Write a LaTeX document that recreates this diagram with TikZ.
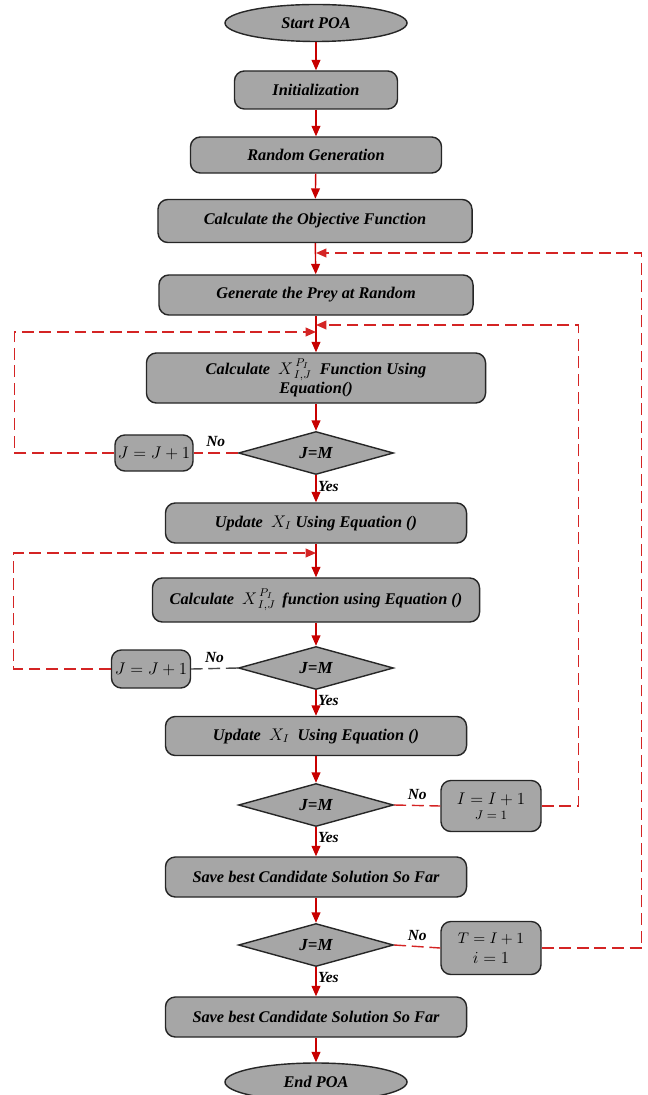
\documentclass[tikz,border=0pt]{standalone}
\usepackage{fontspec}
\setmainfont{Liberation Serif}
\usepackage{tikz}
\usetikzlibrary{arrows.meta,shapes.geometric,positioning,calc}
\definecolor{boxgray}{RGB}{166,166,166}
\definecolor{arrred}{RGB}{200,0,0}
\definecolor{loopred}{RGB}{212,36,36}
\tikzset{
  procbox/.style={rectangle, rounded corners=7pt, draw=black!85, line width=1pt, fill=boxgray,
                  align=center, font=\fontsize{11.6}{14}\selectfont\bfseries\itshape, inner sep=1pt},
  termbox/.style={ellipse, draw=black!85, line width=1pt, fill=boxgray, inner sep=1pt,
                  font=\fontsize{11.6}{14}\selectfont\bfseries\itshape},
  decbox/.style={diamond, aspect=3.6, draw=black!85, line width=1pt, fill=boxgray, inner sep=1pt,
                 minimum width=3.875cm, minimum height=1.075cm,
                 font=\fontsize{12}{14}\selectfont\bfseries\itshape},
  mathbox/.style={procbox, font=\fontsize{12.5}{14}\selectfont},
  arr/.style={-{Triangle[length=2.6mm,width=2.2mm]}, line width=1pt, draw=arrred},
  loopline/.style={line width=1pt, draw=loopred, dash pattern=on 8.5pt off 4pt},
  lbl/.style={font=\fontsize{11}{13}\selectfont\bfseries\itshape, inner sep=1pt},
}

\begin{document}
\begin{tikzpicture}[x=0.025cm, y=-0.025cm]
\useasboundingbox (0,0) rectangle (647,1095);

% main column
\node[termbox, minimum width=4.55cm, minimum height=0.925cm] (start) at (316,23) {Start POA};
\node[procbox, minimum width=4.075cm, minimum height=0.95cm] (init) at (316,90) {Initialization};
\node[procbox, minimum width=6.275cm, minimum height=0.9cm] (randgen) at (316,155) {Random Generation};
\node[procbox, minimum width=7.85cm, minimum height=1.075cm] (objfun) at (315,221) {Calculate the Objective Function};
\node[procbox, minimum width=7.85cm, minimum height=1cm] (prey) at (316,295) {Generate the Prey at Random};
\node[procbox, minimum width=8.475cm, minimum height=1.25cm] (calcA) at (316,378) {Calculate \ $X^{\,P_I}_{\,I,J}$ \ Function Using\\Equation()};
\node[decbox] (decA) at (316,453) {J=M};
\node[mathbox, minimum width=1.95cm, minimum height=0.9cm] (incA) at (154,453) {$J=J+1$};
\node[procbox, minimum width=7.525cm, minimum height=1cm] (updA) at (316,523) {Update \ $X_I$ Using Equation ()};
\node[procbox, minimum width=8.175cm, minimum height=1.1cm] (calcB) at (316,600) {Calculate \ $X^{\,P_I}_{\,I,J}$ \,function using Equation ()};
\node[decbox] (decB) at (316,668) {J=M};
\node[mathbox, minimum width=1.975cm, minimum height=0.95cm] (incB) at (151,669) {$J=J+1$};
\node[procbox, minimum width=7.525cm, minimum height=0.975cm] (updB) at (316,736) {Update \ $X_I$ \ Using Equation ()};
\node[decbox] (decC) at (316,805) {J=M};
\node[mathbox, minimum width=2.5cm, minimum height=1.275cm] (resetI) at (491,806) {$I=I+1$\\[-3pt]{\fontsize{9.5}{11}\selectfont$J=1$}};
\node[procbox, minimum width=7.525cm, minimum height=1cm] (saveA) at (316,877) {Save best Candidate Solution So Far};
\node[decbox] (decD) at (316,945) {J=M};
\node[mathbox, minimum width=2.5cm, minimum height=1.325cm] (resetT) at (491,948) {{\fontsize{11}{12}\selectfont$T=I+1$}\\$i=1$};
\node[procbox, minimum width=7.525cm, minimum height=1cm] (saveB) at (316,1017) {Save best Candidate Solution So Far};
\node[termbox, minimum width=4.55cm, minimum height=0.95cm] (endpoa) at (316,1082) {End POA};

% junctions on the main line
\coordinate (jtop) at (316,253);
\coordinate (jright) at (316,325);
\coordinate (jleft) at (316,332);
\coordinate (jlow) at (316,553);

% forward arrows
\draw[arr] (start) -- (init);
\draw[arr] (init) -- (randgen);
\draw[arr] (randgen) -- (objfun);
\draw[arr] (objfun) -- (prey);
\draw[arr] (prey) -- (calcA);
\draw[arr] (calcA) -- (decA);
\draw[arr] (decA) -- node[lbl, right, pos=0.4] {Yes} (updA);
\draw[arr] (updA) -- (calcB);
\draw[arr] (calcB) -- (decB);
\draw[arr] (decB) -- node[lbl, right, pos=0.4] {Yes} (updB);
\draw[arr] (updB) -- (decC);
\draw[arr] (decC) -- node[lbl, right, pos=0.35] {Yes} (saveA);
\draw[arr] (saveA) -- (decD);
\draw[arr] (decD) -- node[lbl, right, pos=0.35] {Yes} (saveB);
\draw[arr] (saveB) -- (endpoa);

% no branches
\draw[loopline] (decA.west) -- node[lbl, above=3pt, text=black] {No} (incA.east);
\draw[line width=1pt, draw=black!70, dash pattern=on 8.5pt off 4pt] (decB.west) -- node[lbl, above=3pt] {No} (incB.east);
\draw[loopline] (decC.east) -- node[lbl, above=3pt] {No} (resetI.west);
\draw[loopline] (decD.east) -- node[lbl, above=3pt] {No} (resetT.west);

% loops back
\draw[loopline, -{Triangle[length=2.6mm,width=2.2mm]}] (incA.west) -- ++(-100,0) |- (jleft);
\draw[loopline, -{Triangle[length=2.6mm,width=2.2mm]}] (incB.west) -- ++(-97,0) |- (jlow);
\draw[loopline, -{Triangle[length=2.6mm,width=2.2mm]}] (resetI.east) -- ++(37,0) |- (jright);
\draw[loopline, -{Triangle[length=2.6mm,width=2.2mm]}] (resetT.east) -- ++(100,0) |- (jtop);
\end{tikzpicture}
\end{document}
